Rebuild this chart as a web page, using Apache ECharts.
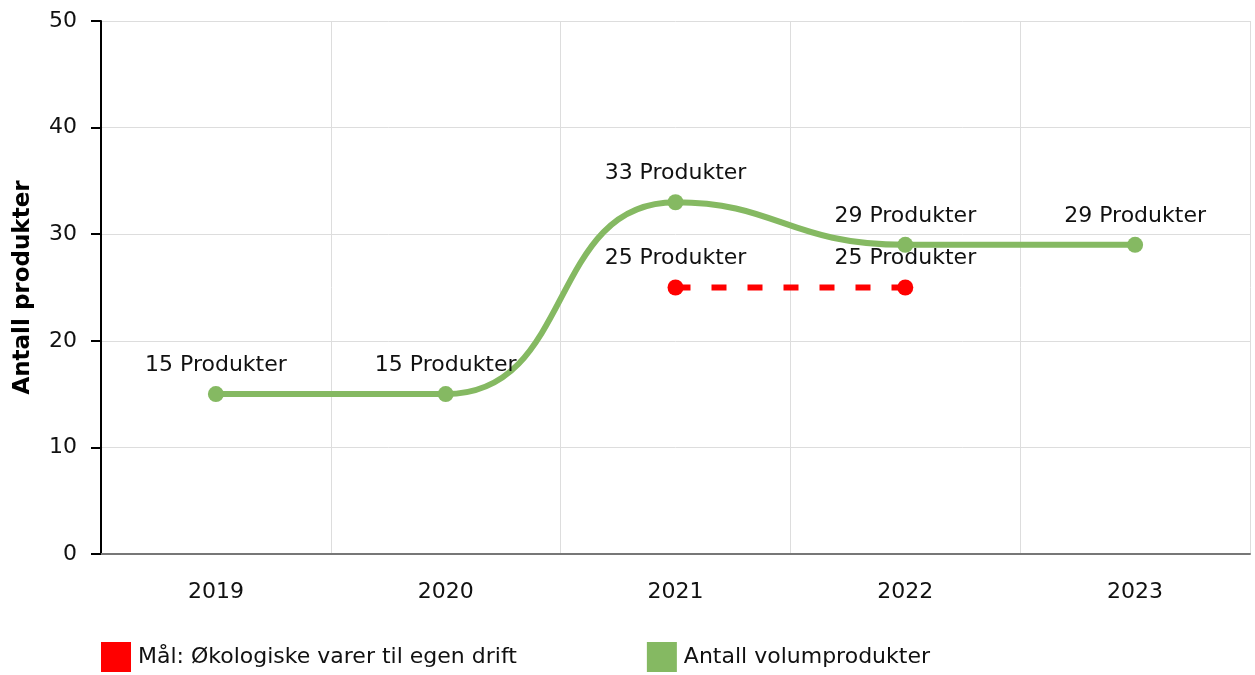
<!DOCTYPE html>
<html>
<head>
<meta charset="utf-8">
<script src="https://cdn.jsdelivr.net/npm/echarts@6/dist/echarts.min.js"></script>
<style>
  html, body { margin: 0; padding: 0; background: #fff; }
  #chart { width: 1255px; height: 675px; }
</style>
</head>
<body>
<div id="chart"></div>
<script>
const years = ['2019', '2020', '2021', '2022', '2023'];
const volumProdukter = [15, 15, 33, 29, 29];
const maalOkologisk = [null, null, 25, 25, null];
const yTicks = { min: 0, max: 50, interval: 10 };

const chart = echarts.init(document.getElementById('chart'));
const font = 'DejaVu Sans';

const option = {
  animation: false,
  textStyle: { fontFamily: font },
  grid: { left: 101, right: 5, top: 21, bottom: 121, containLabel: false, outerBoundsMode: 'none' },
  legend: {
    left: 101,
    top: 642,
    padding: 0,
    itemWidth: 30,
    itemHeight: 30,
    itemGap: 130,
    icon: 'rect',
    textStyle: { fontFamily: font, fontSize: 22, color: '#111', padding: [0, 0, 0, 2] },
    data: ['Mål: Økologiske varer til egen drift', 'Antall volumprodukter']
  },
  xAxis: {
    type: 'category',
    data: years,
    boundaryGap: true,
    axisLine: { lineStyle: { color: '#777', width: 2 } },
    axisTick: { alignWithLabel: true, length: 9, lineStyle: { color: '#bbb', width: 2 } },
    axisLabel: { fontSize: 22, color: '#111', margin: 27 },
    splitLine: { show: true, lineStyle: { color: '#ddd', width: 1 } }
  },
  yAxis: {
    type: 'value',
    min: yTicks.min,
    max: yTicks.max,
    interval: yTicks.interval,
    name: 'Antall produkter',
    nameLocation: 'middle',
    nameGap: 66,
    nameTextStyle: { fontSize: 23, fontWeight: 'bold', color: '#000', fontFamily: font },
    axisLine: { show: true, lineStyle: { color: '#000', width: 2 } },
    axisTick: { show: true, length: 10, lineStyle: { color: '#000', width: 2 } },
    axisLabel: { fontSize: 22, color: '#111', margin: 24 },
    splitLine: { show: true, lineStyle: { color: '#ddd', width: 1 } }
  },
  series: [
    {
      name: 'Mål: Økologiske varer til egen drift',
      type: 'line',
      data: maalOkologisk,
      z: 3,
      symbol: 'circle',
      symbolSize: 16,
      itemStyle: { color: '#ff0000' },
      lineStyle: { color: '#ff0000', width: 6, type: [15, 21] },
      label: {
        show: true, position: 'top', distance: 10,
        fontSize: 22, color: '#111', fontFamily: font,
        formatter: p => p.value + ' Produkter'
      }
    },
    {
      name: 'Antall volumprodukter',
      type: 'line',
      data: volumProdukter,
      smooth: 0.5,
      symbol: 'circle',
      symbolSize: 16,
      itemStyle: { color: '#85b962' },
      lineStyle: { color: '#85b962', width: 6 },
      label: {
        show: true, position: 'top', distance: 10,
        fontSize: 22, color: '#111', fontFamily: font,
        formatter: p => p.value + ' Produkter'
      }
    }
  ]
};

chart.setOption(option);
window.addEventListener('resize', () => chart.resize());
</script>
</body>
</html>
